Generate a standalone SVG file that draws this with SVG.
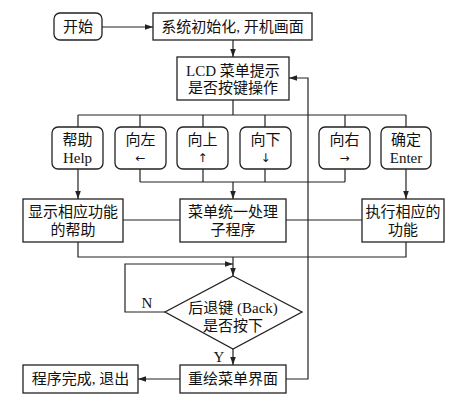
<svg xmlns="http://www.w3.org/2000/svg" width="456" height="405" viewBox="0 0 456 405">
<style>
.b{fill:#fff;stroke:#222;stroke-width:1.3}
.l{fill:none;stroke:#222;stroke-width:1.2}
text{font-family:"Liberation Serif","Noto Sans CJK SC",serif;font-size:15px;fill:#111;text-anchor:middle;dominant-baseline:central}
.ar{font-family:"DejaVu Sans",sans-serif;font-size:12px}
</style>
<defs>
<marker id="a" viewBox="0 0 10 10" refX="10" refY="5" markerWidth="8" markerHeight="8" markerUnits="userSpaceOnUse" orient="auto">
<path d="M0,1.5L10,5L0,8.5z" fill="#222"/>
</marker>
</defs>
<rect width="456" height="405" fill="#fff"/>
<g id="connectors">
<path class="l" d="M102,27H153" marker-end="url(#a)"/>
<path class="l" d="M233,40V57" marker-end="url(#a)"/>
<path class="l" d="M233,100V115M78,115H406M78,115V127M140,115V127M203,115V127M265,115V127M345,115V127M406,115V127"/>
<path class="l" d="M78,169V199" marker-end="url(#a)"/>
<path class="l" d="M406,169V199" marker-end="url(#a)"/>
<path class="l" d="M140,169V182M203,169V182M265,169V182M345,169V182M140,182H345"/>
<path class="l" d="M233,182V199" marker-end="url(#a)"/>
<path class="l" d="M123,220H180M286,220H362"/>
<path class="l" d="M78,242V257H406V242"/>
<path class="l" d="M233,257V276" marker-end="url(#a)"/>
<path class="l" d="M165,312H125V264H233" marker-end="url(#a)"/>
<path class="l" d="M233,349V365" marker-end="url(#a)"/>
<path class="l" d="M180,379H138" marker-end="url(#a)"/>
<path class="l" d="M286,379H308V78H289" marker-end="url(#a)"/>
<text x="147" y="303">N</text>
<text x="219" y="357">Y</text>
</g>
<g id="start"><rect class="b" x="54" y="13" width="48" height="27" rx="6"/><text x="78" y="27">开始</text></g>
<g id="init"><rect class="b" x="153" y="13" width="159" height="27"/><text x="232.5" y="27">系统初始化, 开机画面</text></g>
<g id="lcd"><rect class="b" x="177" y="57" width="112" height="43"/><text x="233" y="71">LCD 菜单提示</text><text x="233" y="88">是否按键操作</text></g>
<g id="help"><rect class="b" x="52" y="127" width="51" height="42" rx="6"/><text x="77.5" y="140">帮助</text><text x="77.5" y="158">Help</text></g>
<g id="left"><rect class="b" x="115" y="127" width="51" height="42" rx="6"/><text x="140.5" y="140">向左</text><text class="ar" x="140.5" y="158">←</text></g>
<g id="up"><rect class="b" x="177" y="127" width="51" height="42" rx="6"/><text x="202.5" y="140">向上</text><text class="ar" x="202.5" y="158">↑</text></g>
<g id="down"><rect class="b" x="240" y="127" width="51" height="42" rx="6"/><text x="265.5" y="140">向下</text><text class="ar" x="265.5" y="158">↓</text></g>
<g id="right"><rect class="b" x="319" y="127" width="51" height="42" rx="6"/><text x="344.5" y="140">向右</text><text class="ar" x="344.5" y="158">→</text></g>
<g id="enter"><rect class="b" x="381" y="127" width="50" height="42" rx="6"/><text x="406" y="140">确定</text><text x="406" y="158">Enter</text></g>
<g id="showhelp"><rect class="b" x="23" y="199" width="100" height="43"/><text x="73" y="212">显示相应功能</text><text x="73" y="230">的帮助</text></g>
<g id="menu"><rect class="b" x="180" y="199" width="106" height="43"/><text x="233" y="212">菜单统一处理</text><text x="233" y="230">子程序</text></g>
<g id="exec"><rect class="b" x="362" y="199" width="82" height="43"/><text x="403" y="212">执行相应的</text><text x="403" y="230">功能</text></g>
<g id="back"><path class="b" d="M233,276L302,312L233,349L165,312z"/><text x="233" y="308">后退键 (Back)</text><text x="233" y="326">是否按下</text></g>
<g id="redraw"><rect class="b" x="180" y="365" width="106" height="28"/><text x="233" y="379">重绘菜单界面</text></g>
<g id="done"><rect class="b" x="23" y="365" width="115" height="28"/><text x="80.5" y="379">程序完成, 退出</text></g>
</svg>
